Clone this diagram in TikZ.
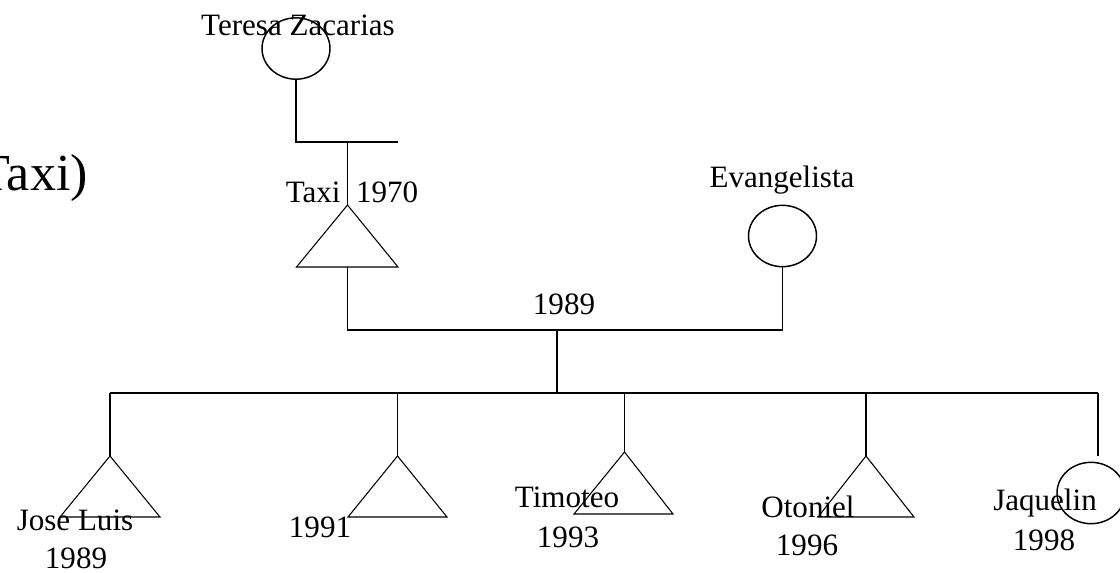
\documentclass[tikz,border=0pt]{standalone}
\usepackage{fontspec}
\setmainfont{Liberation Serif}
\usetikzlibrary{shapes.geometric}
\tikzset{
  lbl/.style={inner sep=0pt, anchor=base, font=\fontsize{23.3}{28}\selectfont},
  female/.style={ellipse, draw, line width=1.1pt, inner sep=0pt, minimum width=51pt, minimum height=46pt},
  tri/.style={draw, line width=0.8pt, line join=miter},
  link/.style={draw, line width=1.1pt},
}
\begin{document}
\begin{tikzpicture}[x=0.75pt,y=-0.75pt]
\useasboundingbox (0,0) rectangle (1120,572);
% title fragment
\node[inner sep=0pt, anchor=base east, font=\fontsize{39}{46}\selectfont] (title) at (88,190) {Taxi)};
% grandmother
\node[female] (teresa) at (296,48.5) {};
\node[lbl] (teresaL) at (298,35) {Teresa Zacarias};
\coordinate (tzR) at (398,142);
\coordinate (tj) at (347.5,142);
\draw[link] (teresa.south) |- (tzR);
% Taxi
\coordinate (taxitop) at (347.5,205);
\coordinate (taxibot) at (347.5,267);
\draw[tri] (taxitop) -- (398,267) -- (296.5,267) -- cycle;
\node[lbl] (taxiL) at (352,202) {Taxi\ \ 1970};
\draw[link] (tj) -- (taxitop);
% Evangelista
\node[female] (evang) at (782.5,236) {};
\node[lbl] (evangL) at (782,187) {Evangelista};
\coordinate (mR) at (782.5,330);
\draw[link] (taxibot) |- (mR) -- (evang.south);
\node[lbl] (marL) at (564,314) {1989};
% descent
\coordinate (md) at (557,330);
\coordinate (sib) at (557,393);
\draw[link] (md) -- (sib);
\coordinate (sL) at (110,393);
\coordinate (sR) at (1098,393);
\draw[link] (sL) -- (sR);
% children
\coordinate (c1) at (110,456);
\coordinate (c2) at (397.5,456);
\coordinate (c3) at (624.5,452);
\coordinate (c4) at (866,456);
\coordinate (c5) at (1098,456);
\draw[link] (c1 |- sL) -- (c1);
\draw[link] (c2 |- sL) -- (c2);
\draw[link] (c3 |- sL) -- (c3);
\draw[link] (c4 |- sL) -- (c4);
\draw[link] (c5 |- sL) -- (c5);
\draw[tri] (c1) -- (160,517) -- (60,517) -- cycle;
\draw[tri] (c2) -- (447,517) -- (348,517) -- cycle;
\draw[tri] (c3) -- (673,514) -- (574,514) -- cycle;
\draw[tri] (c4) -- (914,517) -- (818,517) -- cycle;
\node[female] (jaq) at (1091,493) {};
% labels
\node[lbl] (joseL) at (75,530) {Jose Luis};
\node[lbl] (joseY) at (76,568) {1989};
\node[lbl] (c2Y) at (320,537) {1991};
\node[lbl] (timL) at (567,507) {Timoteo};
\node[lbl] (timY) at (568,547) {1993};
\node[lbl] (otoL) at (808,517) {Otoniel};
\node[lbl] (otoY) at (807,555) {1996};
\node[lbl] (jaqL) at (1045,510) {Jaquelin};
\node[lbl] (jaqY) at (1044,550) {1998};
\end{tikzpicture}
\end{document}
